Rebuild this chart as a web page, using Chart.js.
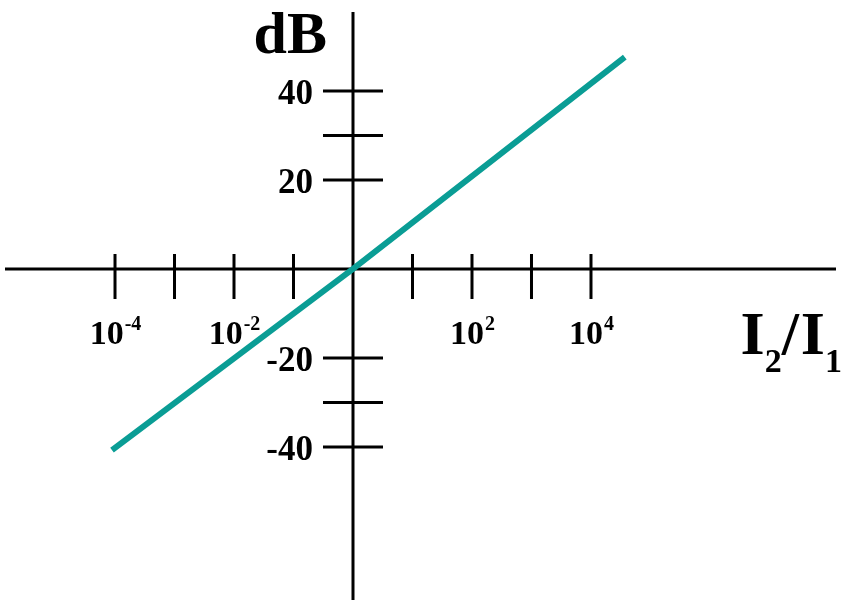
<!DOCTYPE html>
<html>
<head>
<meta charset="utf-8">
<script src="https://cdn.jsdelivr.net/npm/chart.js@4/dist/chart.umd.min.js"></script>
<style>
  body { margin: 0; background: #fff; }
</style>
</head>
<body>
<canvas id="myChart" width="844" height="600"></canvas>
<script>
// level in dB against the intensity ratio I2/I1
const ratios = [8.9e-5, 1, 3.7e4];
const levels = [-40.7, 0, 47.6];

// decade marks on the ratio axis, and the ones that carry a label
const ratioTicks = [1e-4, 1e-3, 1e-2, 1e-1, 1e1, 1e2, 1e3, 1e4];
const ratioLabels = [1e-4, 1e-2, 1e2, 1e4];
const ratioExponents = ["-4", "-2", "2", "4"];

// marks on the dB axis
const dbTicks = [40, 30, 20, -20, -30, -40];
const dbLabels = [40, 20, -20, -40];

const serif = "'Liberation Serif', 'Times New Roman', serif";

// axes cross at (1, 0 dB); ticks go through the axis lines
const crossAxes = {
  id: "crossAxes",
  beforeDatasetsDraw(chart) {
    const c = chart.ctx;
    const xs = chart.scales.x;
    const ys = chart.scales.y;
    const area = chart.chartArea;
    const x0 = xs.getPixelForValue(1);
    const y0 = ys.getPixelForValue(0);

    c.save();
    c.strokeStyle = "#000";
    c.lineWidth = 3;
    c.beginPath();
    c.moveTo(area.left, y0);
    c.lineTo(area.right, y0);
    c.moveTo(x0, area.top);
    c.lineTo(x0, area.bottom);
    ratioTicks.forEach((v) => {
      const px = xs.getPixelForValue(v);
      c.moveTo(px, y0 - 15);
      c.lineTo(px, y0 + 30);
    });
    dbTicks.forEach((v) => {
      const py = ys.getPixelForValue(v);
      c.moveTo(x0 - 30, py);
      c.lineTo(x0 + 30, py);
    });
    c.stroke();

    c.fillStyle = "#000";
    c.textBaseline = "alphabetic";

    // dB labels
    c.font = "bold 35px " + serif;
    c.textAlign = "right";
    dbLabels.forEach((v) => {
      c.fillText(String(v), x0 - 40, ys.getPixelForValue(v) + 13);
    });

    // 10^n labels
    c.textAlign = "left";
    ratioLabels.forEach((v, i) => {
      c.font = "bold 34px " + serif;
      const wBase = c.measureText("10").width;
      c.font = "bold 20px " + serif;
      const wExp = c.measureText(ratioExponents[i]).width;
      const left = xs.getPixelForValue(v) - (wBase + wExp) / 2;
      c.font = "bold 34px " + serif;
      c.fillText("10", left, y0 + 75);
      c.font = "bold 20px " + serif;
      c.fillText(ratioExponents[i], left + wBase + 1, y0 + 61);
    });

    // axis titles
    c.font = "bold 60px " + serif;
    c.textAlign = "right";
    c.fillText("dB", x0 - 26, area.top + 41);

    // I2/I1 with subscripts: [text, size, baseline shift, gap after]
    const parts = [
      ["I", 62, 0, 0],
      ["2", 34, 18, 0],
      ["/", 62, 0, 2],
      ["I", 62, 0, 0],
      ["1", 34, 18, 0],
    ];
    let total = 0;
    parts.forEach((p) => {
      c.font = "bold " + p[1] + "px " + serif;
      total += c.measureText(p[0]).width + p[3];
    });
    let tx = area.right + 6 - total;
    c.textAlign = "left";
    parts.forEach((p) => {
      c.font = "bold " + p[1] + "px " + serif;
      c.fillText(p[0], tx, y0 + 85 + p[2]);
      tx += c.measureText(p[0]).width + p[3];
    });
    c.restore();
  },
};

const ctx = document.getElementById("myChart");
const chart = new Chart(ctx, {
  type: "line",
  data: {
    datasets: [
      {
        data: ratios.map((r, i) => ({ x: r, y: levels[i] })),
        borderColor: "#0a9d95",
        borderWidth: 6,
        pointRadius: 0,
        tension: 0,
      },
    ],
  },
  options: {
    responsive: false,
    animation: false,
    devicePixelRatio: 1,
    layout: {
      padding: { left: 5, right: 8, top: 12, bottom: 0 },
    },
    plugins: {
      legend: { display: false },
      tooltip: { enabled: false },
    },
    scales: {
      x: {
        type: "logarithmic",
        min: 1.416e-6,
        max: 1.312e8,
        display: false,
      },
      y: {
        type: "linear",
        min: -74.4,
        max: 57.75,
        display: false,
      },
    },
  },
  plugins: [crossAxes],
});
</script>
</body>
</html>
